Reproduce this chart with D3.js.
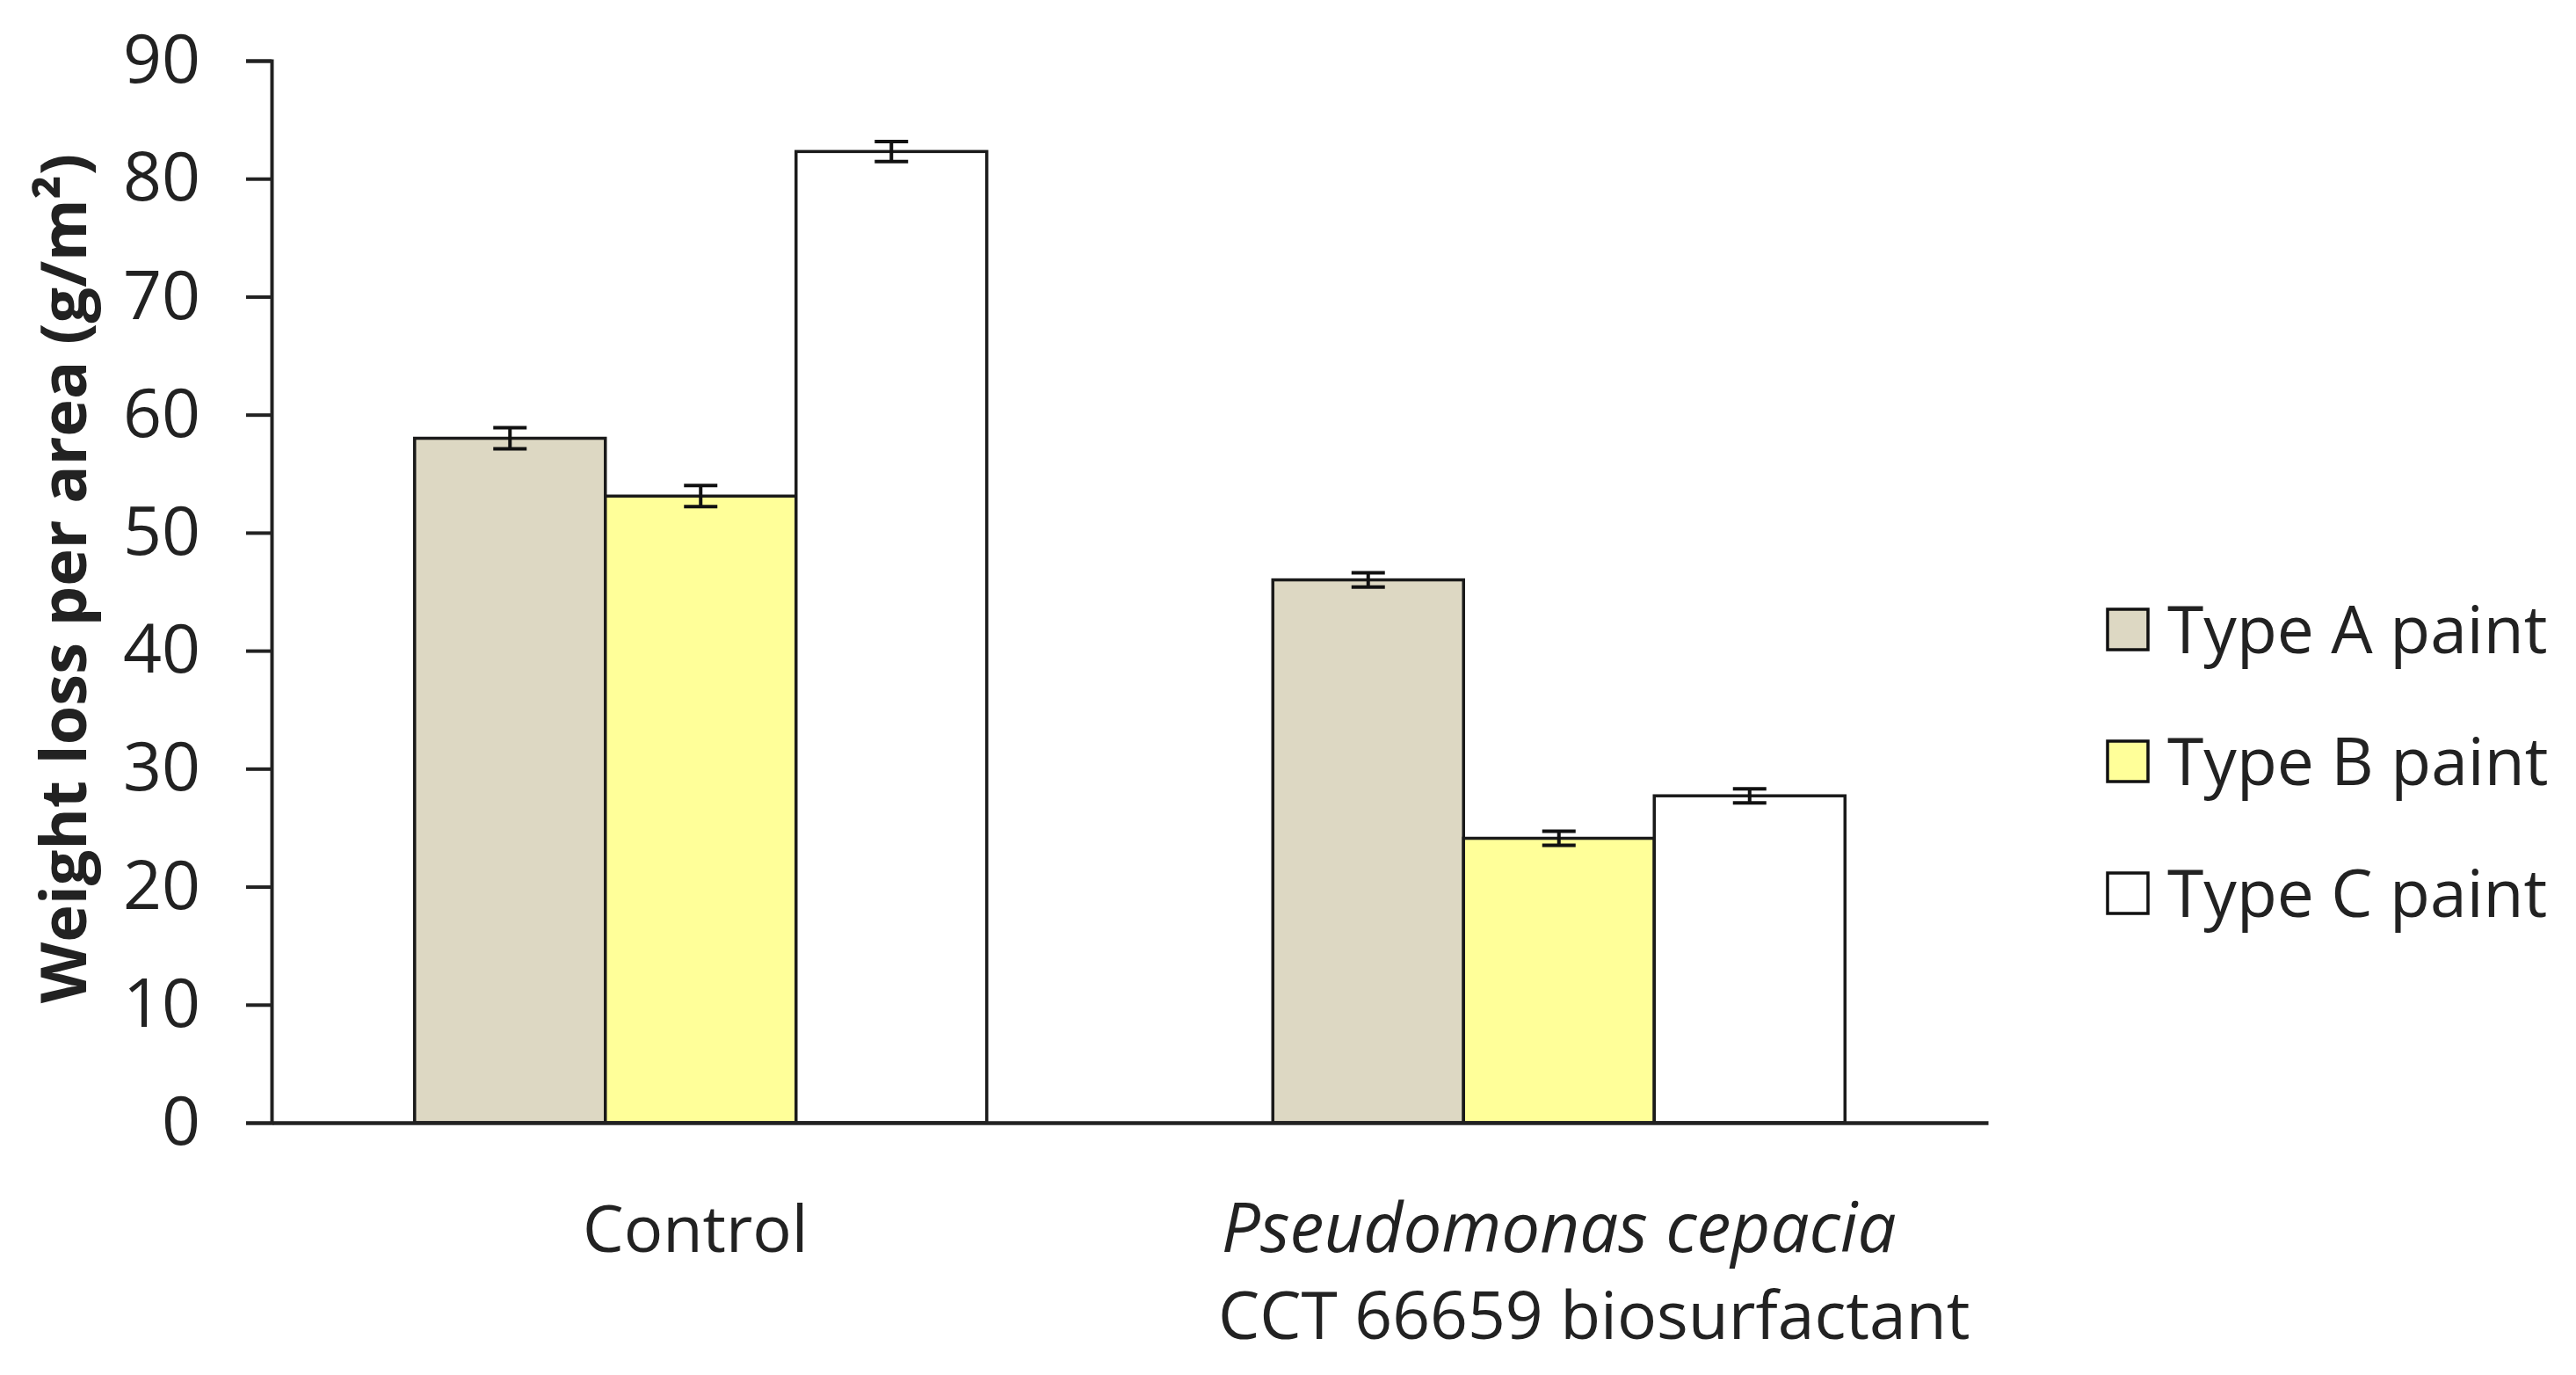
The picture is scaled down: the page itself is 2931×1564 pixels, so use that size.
<!DOCTYPE html>
<meta charset="utf-8">
<script src="https://d3js.org/d3.v7.min.js"></script>
<style>
  body { margin: 0; background: #fff; }
  text { font-family: "Open Sans", "Noto Sans", sans-serif; fill: #222; }
</style>
<body>
<div id="my_dataviz"></div>
<script>

// data
var groups = ["Control", "Pseudomonas cepacia"];
var series = ["Type A paint", "Type B paint", "Type C paint"];
var typeA = [58.0, 46.0];
var typeB = [53.1, 24.1];
var typeC = [82.3, 27.7];
var errA = [0.9, 0.6];
var errB = [0.9, 0.6];
var errC = [0.85, 0.6];
var yTicks = [0, 10, 20, 30, 40, 50, 60, 70, 80, 90];
var colors = ["#ddd8c3", "#ffff99", "#ffffff"];

var values = [typeA, typeB, typeC];
var errors = [errA, errB, errC];

var W = 2931, H = 1564;
var margin = {top: 69, left: 309},
    width = 2262 - margin.left,
    height = 1277 - margin.top;

var svg = d3.select("#my_dataviz")
  .append("svg")
    .attr("width", W)
    .attr("height", H);
var g = svg.append("g")
    .attr("transform", "translate(" + margin.left + "," + margin.top + ")");

// excel style: gap width 150%
var x0 = d3.scaleBand()
    .domain(groups)
    .range([0, width])
    .paddingInner(1 / 3)
    .paddingOuter(1 / 6);
var x1 = d3.scaleBand()
    .domain(series)
    .range([0, x0.bandwidth()]);
var y = d3.scaleLinear()
    .domain([0, 90])
    .range([height, 0]);

// bars
var rows = [];
groups.forEach(function(grp, i) {
  series.forEach(function(s, j) {
    rows.push({group: grp, key: s, v: values[j][i], e: errors[j][i], c: colors[j]});
  });
});

function cx(d) { return x0(d.group) + x1(d.key) + x1.bandwidth() / 2; }

g.selectAll("rect.bar")
  .data(rows)
  .enter().append("rect")
    .attr("class", "bar")
    .attr("x", function(d) { return x0(d.group) + x1(d.key); })
    .attr("y", function(d) { return y(d.v); })
    .attr("width", x1.bandwidth())
    .attr("height", function(d) { return y(0) - y(d.v); })
    .attr("fill", function(d) { return d.c; })
    .attr("stroke", "#1a1a1a")
    .attr("stroke-width", 3.5);

// error bars
var capW = 19;
var eb = g.selectAll("g.err")
  .data(rows)
  .enter().append("g")
    .attr("class", "err")
    .attr("stroke", "#111")
    .attr("stroke-width", 4);
eb.append("line")
    .attr("x1", cx)
    .attr("x2", cx)
    .attr("y1", function(d) { return y(d.v + d.e); })
    .attr("y2", function(d) { return y(d.v - d.e); });
eb.selectAll("line.cap")
  .data(function(d) { return [d.v + d.e, d.v - d.e].map(function(v) { return {d: d, v: v}; }); })
  .enter().append("line")
    .attr("class", "cap")
    .attr("x1", function(c) { return cx(c.d) - capW; })
    .attr("x2", function(c) { return cx(c.d) + capW; })
    .attr("y1", function(c) { return y(c.v); })
    .attr("y2", function(c) { return y(c.v); });

// y axis
var yAxis = g.append("g")
    .call(d3.axisLeft(y).tickValues(yTicks).tickSize(29).tickPadding(52).tickSizeOuter(29));
yAxis.select(".domain").attr("stroke", "#222").attr("stroke-width", 4);
yAxis.selectAll(".tick line").attr("stroke", "#222").attr("stroke-width", 4);
yAxis.selectAll(".tick text")
    .attr("font-size", 77)
    .attr("fill", "#222");

// x axis line
var xAxis = g.append("g")
    .attr("transform", "translate(0," + height + ")")
    .call(d3.axisBottom(x0).tickSize(0).tickFormat(""));
xAxis.select(".domain").attr("stroke", "#222").attr("stroke-width", 4.5);

// category labels
var lx = [x0(groups[0]) + x0.bandwidth() / 2, x0(groups[1]) + x0.bandwidth() / 2];
g.append("text")
    .attr("x", lx[0] - 6).attr("y", height + 147)
    .attr("text-anchor", "middle")
    .attr("font-size", 74)
    .text("Control");
g.append("text")
    .attr("x", lx[1]).attr("y", height + 147)
    .attr("text-anchor", "middle")
    .attr("font-size", 78)
    .attr("font-style", "italic")
    .text("Pseudomonas cepacia");
g.append("text")
    .attr("x", lx[1] + 40).attr("y", height + 246)
    .attr("text-anchor", "middle")
    .attr("font-size", 75)
    .text("CCT 66659 biosurfactant");

// y title
svg.append("text")
    .attr("transform", "translate(98,658) rotate(-90)")
    .attr("text-anchor", "middle")
    .attr("font-size", 72)
    .attr("font-weight", "bold")
    .attr("fill", "#111")
    .text("Weight loss per area (g/m\u00b2)");

// legend
var legend = svg.append("g")
    .attr("transform", "translate(2398,716)");
var li = legend.selectAll("g")
  .data(series)
  .enter().append("g")
    .attr("transform", function(d, i) { return "translate(0," + (i * 150) + ")"; });
li.append("rect")
    .attr("x", 0).attr("y", -23)
    .attr("width", 46).attr("height", 46)
    .attr("fill", function(d, i) { return colors[i]; })
    .attr("stroke", "#111")
    .attr("stroke-width", 3.5);
li.append("text")
    .attr("x", 68).attr("y", 27)
    .attr("font-size", 75)
    .text(function(d) { return d; });

</script>
</body>
